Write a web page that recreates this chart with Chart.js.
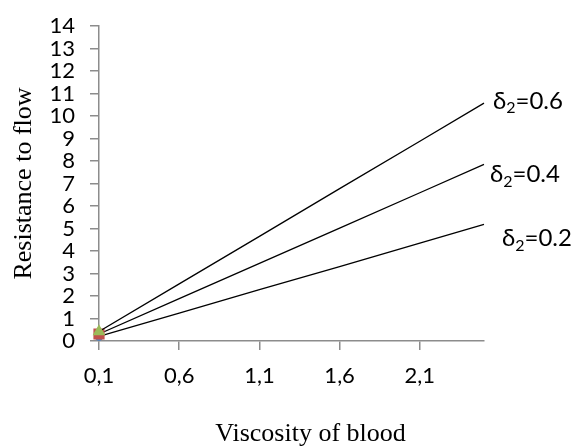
<!DOCTYPE html>
<html>
<head>
<meta charset="utf-8">
<script src="https://cdn.jsdelivr.net/npm/chart.js@4.4.1/dist/chart.umd.min.js"></script>
<style>
  html, body { margin: 0; padding: 0; background: #fff; }
  #wrap { width: 587px; height: 447px; }
</style>
</head>
<body>
<div id="wrap"><canvas id="chart"></canvas></div>
<script>
// Resistance to flow vs viscosity of blood, for three values of delta_2
const viscosity = [0.1, 0.6, 1.1, 1.6, 2.1, 2.5];
const resist06 = [0.42, 2.54, 4.65, 6.77, 8.88, 10.57];
const resist04 = [0.31, 1.88, 3.45, 5.02, 6.59, 7.85];
const resist02 = [0.21, 1.24, 2.28, 3.31, 4.35, 5.18];
const seriesNames = ["0.6", "0.4", "0.2"];

const xTicks = [0.1, 0.6, 1.1, 1.6, 2.1];
const xTickLabels = ["0,1", "0,6", "1,1", "1,6", "2,1"];

const AXIS = "#8c8c8c";
const TICK_FONT = "Lato, 'Open Sans', sans-serif";
const SERIF = "'Liberation Serif', 'Times New Roman', serif";

function toPoints(ys) {
  return ys.map((y, i) => ({ x: viscosity[i], y: y }));
}

// only the first point of each line carries a marker
function firstOnly(r) {
  return viscosity.map((v, i) => (i === 0 ? r : 0));
}

// delta_2 labels next to the line ends, plus the x axis title
const lineLabels = {
  id: "lineLabels",
  afterDatasetsDraw(chart) {
    const { ctx, scales } = chart;
    const offsets = [[9, -2], [6, 10], [18, 14]];
    ctx.save();
    ctx.fillStyle = "#000";
    ctx.textBaseline = "middle";
    chart.data.datasets.forEach((ds, i) => {
      const last = ds.data[ds.data.length - 1];
      let x = scales.x.getPixelForValue(last.x) + offsets[i][0];
      const y = scales.y.getPixelForValue(last.y) + offsets[i][1];
      ctx.font = "24px " + TICK_FONT;
      ctx.fillText("\u03B4", x, y);
      x += ctx.measureText("\u03B4").width;
      ctx.font = "16px " + TICK_FONT;
      ctx.fillText("2", x, y + 7);
      x += ctx.measureText("2").width;
      ctx.font = "24px " + TICK_FONT;
      ctx.fillText("=" + seriesNames[i], x, y);
    });
    const a = chart.chartArea;
    ctx.font = "26px " + SERIF;
    ctx.textAlign = "center";
    ctx.fillText("Viscosity of blood", (a.left + a.right) / 2 + 19, 434);
    ctx.restore();
  }
};

new Chart(document.getElementById("chart"), {
  type: "line",
  data: {
    datasets: [
      {
        label: "δ2=0.6",
        data: toPoints(resist06),
        borderColor: "#000",
        borderWidth: 1.3,
        pointStyle: "triangle",
        pointRadius: firstOnly(6),
        pointBackgroundColor: "#9bbb59",
        pointBorderColor: "#9bbb59",
        clip: false,
        order: 1
      },
      {
        label: "δ2=0.4",
        data: toPoints(resist04),
        borderColor: "#000",
        borderWidth: 1.3,
        pointStyle: "rect",
        pointRadius: firstOnly(7),
        pointBackgroundColor: "#c0504d",
        pointBorderColor: "#c0504d",
        clip: false,
        order: 2
      },
      {
        label: "δ2=0.2",
        data: toPoints(resist02),
        borderColor: "#000",
        borderWidth: 1.3,
        pointStyle: "circle",
        pointRadius: firstOnly(4),
        pointBackgroundColor: "#4f81bd",
        pointBorderColor: "#4f81bd",
        clip: false,
        order: 3
      }
    ]
  },
  options: {
    responsive: true,
    maintainAspectRatio: false,
    animation: false,
    layout: { padding: { top: 23, right: 103, bottom: 0, left: 0 } },
    plugins: {
      legend: { display: false },
      tooltip: { enabled: false }
    },
    scales: {
      x: {
        type: "linear",
        min: 0.1,
        max: 2.5,
        afterBuildTicks(axis) {
          axis.ticks = xTicks.map(v => ({ value: v }));
        },
        afterFit(axis) { axis.height = 106; },
        grid: { drawOnChartArea: false, drawTicks: true, tickLength: 9, color: AXIS, lineWidth: 1.5 },
        border: { color: AXIS, width: 1.5 },
        ticks: {
          color: "#000",
          font: { size: 22, family: TICK_FONT },
          padding: 13,
          maxRotation: 0,
          autoSkip: false,
          callback: (v, i) => xTickLabels[i]
        }
      },
      y: {
        min: 0,
        max: 14,
        afterFit(axis) { axis.width = 99; },
        grid: { drawOnChartArea: false, drawTicks: true, tickLength: 9, color: AXIS, lineWidth: 1.5 },
        border: { color: AXIS, width: 1.5 },
        ticks: {
          stepSize: 1,
          autoSkip: false,
          color: "#000",
          font: { size: 22, family: TICK_FONT, lineHeight: 1 },
          padding: 15
        },
        title: {
          display: true,
          text: "Resistance to flow",
          color: "#000",
          font: { size: 26, family: SERIF },
          padding: { top: 9, bottom: 0 }
        }
      }
    }
  },
  plugins: [lineLabels]
});
</script>
</body>
</html>
